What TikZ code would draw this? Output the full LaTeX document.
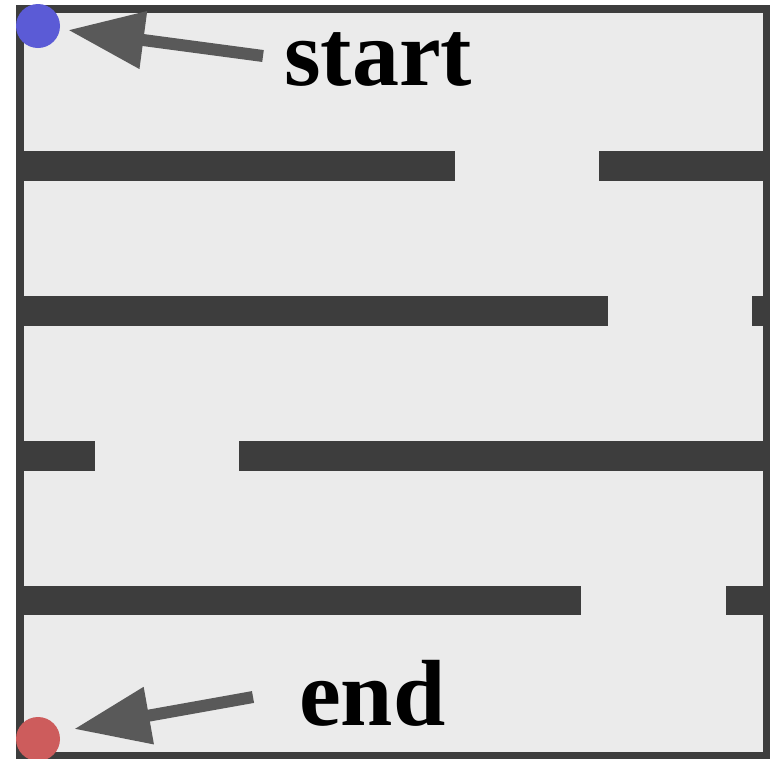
\documentclass[tikz,border=0pt]{standalone}
\usepackage{fontspec}
\setmainfont{Liberation Serif}
\usetikzlibrary{arrows.meta}
\definecolor{wallc}{HTML}{3D3D3D}
\definecolor{floorc}{HTML}{EBEBEB}
\definecolor{startc}{HTML}{5B5BD6}
\definecolor{endc}{HTML}{CD5C5C}
\definecolor{arrowc}{HTML}{595959}
\tikzset{
  wall/.style={fill=wallc, draw=none},
  frame/.style={draw=wallc, line width=7.5pt, fill=floorc},
  dot/.style={circle, inner sep=0pt, minimum size=44pt, draw=none},
  pointer/.style={draw=arrowc, line width=12pt, -{Triangle[length=76pt,width=55pt]}, arrowc},
  label/.style={font=\fontsize{94}{100}\selectfont\bfseries, inner sep=0pt, anchor=base west}
}
\begin{document}
\begin{tikzpicture}[x=1pt,y=-1pt]
\useasboundingbox (0,0) rectangle (771,758);
\clip (0,0) rectangle (771,758);
\draw[frame] (20,9) rectangle (766.5,756);
% walls
\fill[wall] (20,151) rectangle (455,181);
\fill[wall] (599,151) rectangle (767,181);
\fill[wall] (20,296) rectangle (608,326);
\fill[wall] (752,296) rectangle (767,326);
\fill[wall] (20,441) rectangle (95,471);
\fill[wall] (239,441) rectangle (767,471);
\fill[wall] (20,586) rectangle (581,615);
\fill[wall] (726,586) rectangle (767,615);
% dots
\node[dot, fill=startc] (startdot) at (38,26) {};
\node[dot, fill=endc] (enddot) at (38,739) {};
% labels
\node[label] (startlbl) at (284,85) {start};
\node[label] (endlbl) at (299,725) {end};
% arrows
\coordinate (stail) at (263,56);
\coordinate (stip) at (68,30);
\coordinate (etail) at (253,697);
\coordinate (etip) at (74,729);
\draw[pointer] (stail) -- (stip);
\draw[pointer] (etail) -- (etip);
\end{tikzpicture}
\end{document}
